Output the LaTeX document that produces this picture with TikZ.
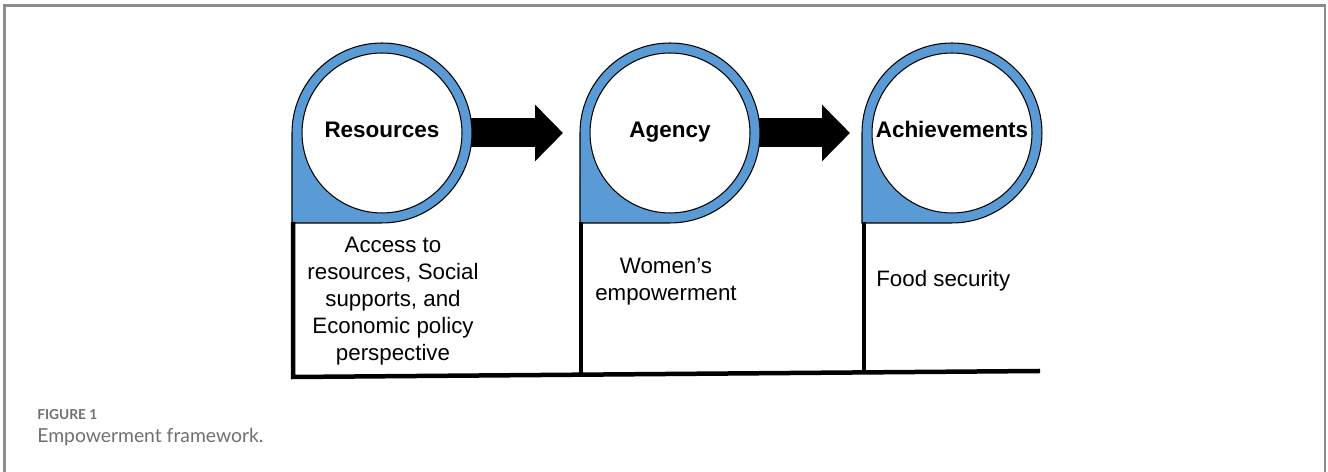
\documentclass[tikz,border=0pt]{standalone}
\usepackage{fontspec}
\setmainfont{Liberation Sans}
\newfontfamily\capfont{Lato}
\usetikzlibrary{arrows.meta}
\definecolor{dropblue}{HTML}{5B9BD5}
\definecolor{framegray}{HTML}{8C8C8C}
\definecolor{capgray}{HTML}{707070}
\tikzset{
  drop/.style={draw=black, line width=0.6pt, fill=dropblue},
  stage/.style={circle, draw=black, line width=0.6pt, fill=white, minimum size=3.2cm,
    inner sep=0pt, text height=0.72em, text depth=0.2em, font=\fontsize{12.8}{15}\selectfont\bfseries},
  bigarrow/.style={line width=0.58cm, -{Triangle[width=1.1cm,length=0.56cm]}},
  rule/.style={line width=0.09cm},
  desc/.style={font=\fontsize{12.7}{15.3}\selectfont, align=center, inner sep=0pt},
  caption/.style={anchor=west, inner sep=0pt, text=capgray}
}
\begin{document}
\begin{tikzpicture}[x=0.02cm,y=0.02cm]
    \useasboundingbox (0,0) rectangle (1328,472);
    % frame, open at the bottom
    \draw[framegray, line width=1.2pt] (4.5,0) -- (4.5,466.5) -- (1325,466.5) -- (1325,0);

    % centres of the three stages
    \coordinate (res-c) at (382,339);
    \coordinate (agy-c) at (670,339);
    \coordinate (ach-c) at (952,339);
    % where the block arrows end
    \coordinate (agy-in) at (563,339);
    \coordinate (ach-in) at (850,339);

    % block arrows (drawn first, the drops cover their tails)
    \draw[bigarrow] (res-c) -- (agy-in);
    \draw[bigarrow] (agy-c) -- (ach-in);

    % the blue drops: circle with a square lower left corner
    \foreach \c in {res-c, agy-c, ach-c}
        \draw[drop] (\c) ++(-90,0) arc (180:-90:1.8cm) -- ++(-90,0) -- cycle;

    % the stage names
    \node[stage] (res) at (res-c) {Resources};
    \node[stage] (agy) at (agy-c) {Agency};
    \node[stage] (ach) at (ach-c) {Achievements};

    % posts and base line
    \draw[rule] (293,250) -- (293,95) -- (1040,101);
    \draw[rule] (581,250) -- (581,97.5);
    \draw[rule] (864,250) -- (864,100);

    % what each stage stands for
    \node[desc] (res-text) at (393,171) {Access to\\resources, Social\\supports, and\\Economic policy\\perspective};
    \node[desc] (agy-text) at (666,190) {Women’s\\empowerment};
    \node[desc, anchor=west] (ach-text) at (876,191) {Food security};

    % caption
    \node[caption, font=\capfont\bfseries\fontsize{7.8}{9}\selectfont] (fig-num) at (37,57) {FIGURE 1};
    \node[caption, font=\capfont\fontsize{11}{13}\selectfont] (fig-cap) at (37,35) {Empowerment framework.};
\end{tikzpicture}
\end{document}
